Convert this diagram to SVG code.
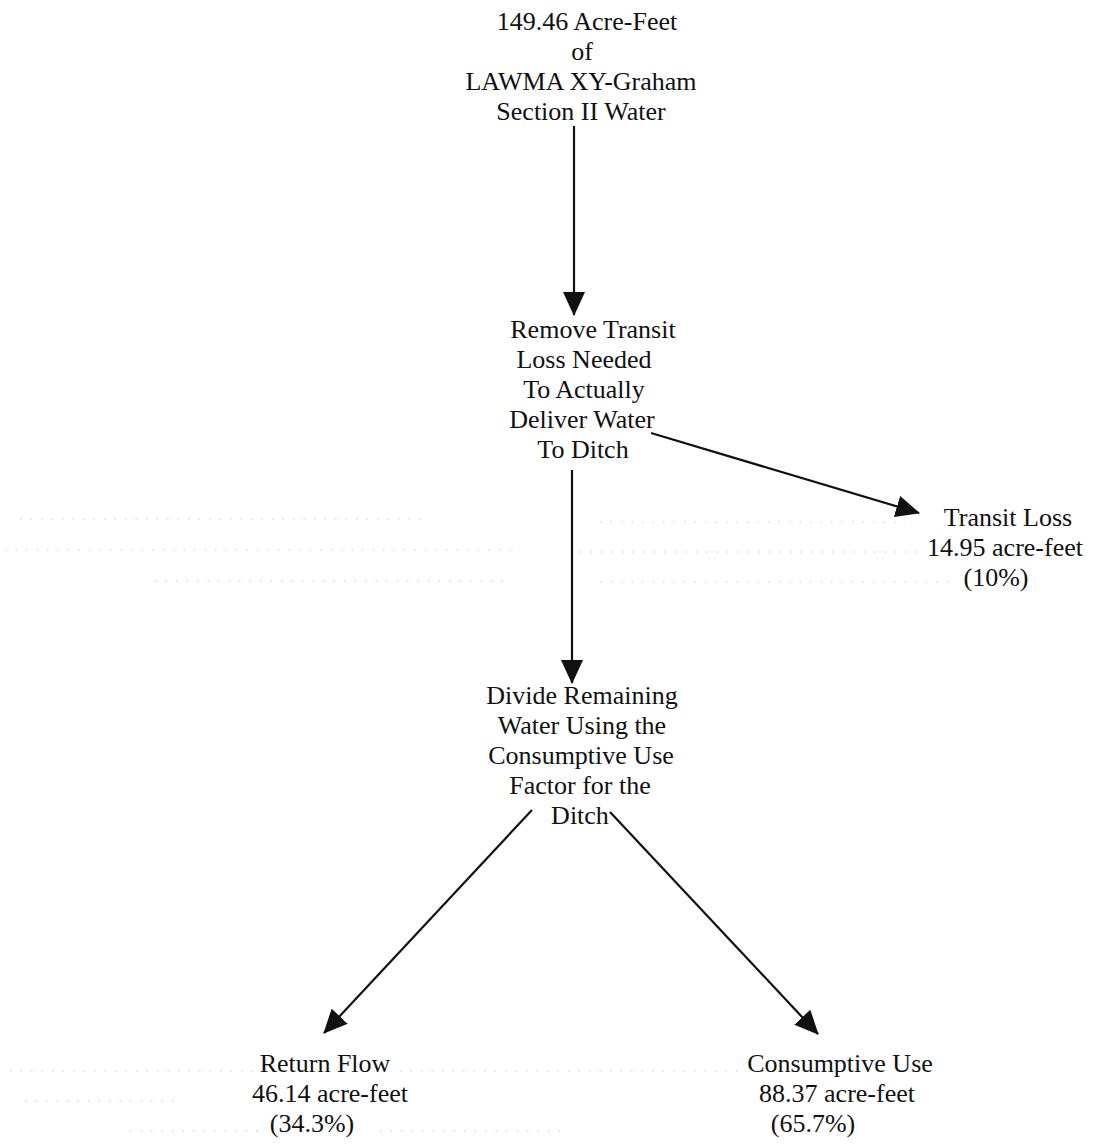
<svg xmlns="http://www.w3.org/2000/svg" width="1100" height="1146" viewBox="0 0 1100 1146">
<style>
text{font-family:'Liberation Serif','Times New Roman',serif;font-size:26px;fill:#111;text-anchor:middle}
.c{stroke:#111;stroke-width:2.2;fill:none}
.d{stroke:#c4c4c4;stroke-width:1;stroke-dasharray:1.5 9;fill:none}
</style>
<defs>
<marker id="ah" viewBox="0 0 24 22" refX="23" refY="11" markerWidth="24" markerHeight="22" markerUnits="userSpaceOnUse" orient="auto">
<path d="M0,0 L24,11 L0,22 Z" fill="#111"/>
</marker>
</defs>
<rect width="1100" height="1146" fill="#fff"/>
<g id="scan-dots">
<path class="d" d="M20,519 H420 M5,550 H520 M155,581 H510"/>
<path class="d" d="M600,522 H905 M580,552 H925 M600,582 H950"/>
<path class="d" d="M10,1071 H255 M400,1071 H740 M25,1101 H180 M130,1131 H265 M380,1131 H560"/>
</g>
<g id="connectors">
<line class="c" x1="574" y1="126" x2="574" y2="315" marker-end="url(#ah)"/>
<line class="c" x1="651" y1="433" x2="919" y2="513" marker-end="url(#ah)"/>
<line class="c" x1="572" y1="470" x2="572" y2="683" marker-end="url(#ah)"/>
<line class="c" x1="532" y1="810" x2="324" y2="1033" marker-end="url(#ah)"/>
<line class="c" x1="610" y1="812" x2="818" y2="1034" marker-end="url(#ah)"/>
</g>
<g id="source">
<text x="587" y="30">149.46 Acre-Feet</text>
<text x="582" y="60">of</text>
<text x="581" y="90">LAWMA XY-Graham</text>
<text x="581" y="120">Section II Water</text>
</g>
<g id="remove-transit-loss">
<text x="593" y="338">Remove Transit</text>
<text x="584" y="368">Loss Needed</text>
<text x="584" y="398">To Actually</text>
<text x="582" y="428">Deliver Water</text>
<text x="583" y="458">To Ditch</text>
</g>
<g id="transit-loss">
<text x="1008" y="526">Transit Loss</text>
<text x="1005" y="556">14.95 acre-feet</text>
<text x="996" y="586">(10%)</text>
</g>
<g id="divide-water">
<text x="582" y="704">Divide Remaining</text>
<text x="582" y="734">Water Using the</text>
<text x="581" y="764">Consumptive Use</text>
<text x="580" y="794">Factor for the</text>
<text x="580" y="824">Ditch</text>
</g>
<g id="return-flow">
<text x="325" y="1072">Return Flow</text>
<text x="330" y="1102">46.14 acre-feet</text>
<text x="312" y="1132">(34.3%)</text>
</g>
<g id="consumptive-use">
<text x="840" y="1072">Consumptive Use</text>
<text x="837" y="1102">88.37 acre-feet</text>
<text x="813" y="1132">(65.7%)</text>
</g>
</svg>
